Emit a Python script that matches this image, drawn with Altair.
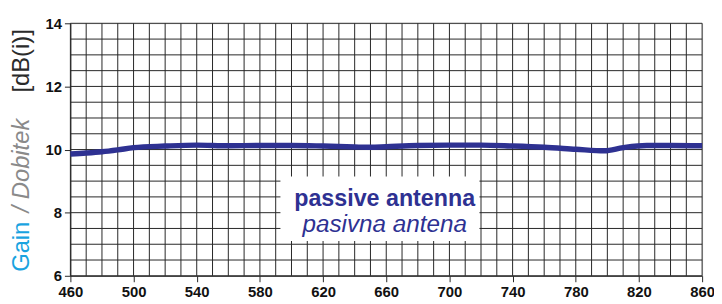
import altair as alt
import pandas as pd

# Frequency (MHz) and gain (dBi)
freq = [460, 470, 480, 490, 500, 520, 540, 560, 580, 600, 620, 640, 650,
        660, 680, 700, 720, 740, 760, 780, 798, 810, 825, 840, 860]
gain = [9.86, 9.89, 9.93, 9.99, 10.06, 10.11, 10.14, 10.12, 10.13, 10.13,
        10.11, 10.08, 10.07, 10.09, 10.13, 10.14, 10.14, 10.11, 10.07, 10.01,
        9.96, 10.06, 10.13, 10.13, 10.12]

x_grid = list(range(460, 861, 10))
y_grid = [6 + 0.5 * i for i in range(17)]
x_labels = list(range(460, 861, 40))
y_labels = [6, 8, 10, 12, 14]

note_lines = ["passive antenna", "pasivna antena"]
note_x = [659, 659]
note_y = [8.43, 7.6]
box_x = [593, 719]
box_y = [7.1, 9.15]

FONT = "Liberation Sans"
BLUE = "#2e3192"
GRID = "#262626"

df = pd.DataFrame({"f": freq, "g": gain})

xscale = alt.Scale(domain=[460, 860], nice=False, zero=False)
yscale = alt.Scale(domain=[6, 14], nice=False, zero=False)

xaxis = alt.Axis(
    values=x_labels, title=None, grid=False, domainColor=GRID, domainWidth=1,
    tickColor=GRID, tickSize=6, labelOverlap=False, labelFlush=False,
    labelFont=FONT, labelFontSize=15, labelFontWeight="bold",
    labelColor="#111111", labelPadding=3,
)
yaxis = alt.Axis(
    values=y_labels, title=None, grid=False, domainColor=GRID, domainWidth=1,
    tickColor=GRID, tickSize=6, labelOverlap=False, labelFlush=False,
    labelFont=FONT, labelFontSize=15, labelFontWeight="bold",
    labelColor="#111111", labelPadding=3,
)

vgrid = alt.Chart(pd.DataFrame({"v": x_grid})).mark_rule(color=GRID, strokeWidth=1).encode(
    x=alt.X("v:Q", scale=xscale, axis=xaxis)
)
hgrid = alt.Chart(pd.DataFrame({"h": y_grid})).mark_rule(color=GRID, strokeWidth=1).encode(
    y=alt.Y("h:Q", scale=yscale, axis=yaxis)
)

line = alt.Chart(df).mark_line(color=BLUE, strokeWidth=5.5, interpolate="monotone").encode(
    x=alt.X("f:Q", scale=xscale),
    y=alt.Y("g:Q", scale=yscale),
)

box_df = pd.DataFrame({"x1": [box_x[0]], "x2": [box_x[1]], "y1": [box_y[0]], "y2": [box_y[1]]})
box = alt.Chart(box_df).mark_rect(color="white").encode(
    x=alt.X("x1:Q", scale=xscale), x2="x2:Q",
    y=alt.Y("y1:Q", scale=yscale), y2="y2:Q",
)

t1 = alt.Chart(pd.DataFrame({"t": [note_lines[0]], "x": [note_x[0]], "y": [note_y[0]]})).mark_text(
    font=FONT, fontSize=23.5, fontWeight="bold", color=BLUE, align="center", baseline="middle"
).encode(x=alt.X("x:Q", scale=xscale), y=alt.Y("y:Q", scale=yscale), text="t:N")
t2 = alt.Chart(pd.DataFrame({"t": [note_lines[1]], "x": [note_x[1]], "y": [note_y[1]]})).mark_text(
    font=FONT, fontSize=24.5, fontStyle="italic", color=BLUE, align="center", baseline="middle"
).encode(x=alt.X("x:Q", scale=xscale), y=alt.Y("y:Q", scale=yscale), text="t:N")

ta = alt.Chart(pd.DataFrame({"t": ["Gain"]})).mark_text(
    font=FONT, fontSize=24, color="#19a3e0", angle=270, align="left", baseline="middle"
).encode(x=alt.value(-49), y=alt.value(251), text="t:N")
tb = alt.Chart(pd.DataFrame({"t": ["/ Dobitek"]})).mark_text(
    font=FONT, fontSize=24, fontStyle="italic", color="#8a8a8a", angle=270, align="left", baseline="middle"
).encode(x=alt.value(-49), y=alt.value(191), text="t:N")
tc = alt.Chart(pd.DataFrame({"t": ["[dB(i)]"]})).mark_text(
    font=FONT, fontSize=24, color="#2a2a2a", angle=270, align="left", baseline="middle"
).encode(x=alt.value(-49), y=alt.value(70), text="t:N")

chart = alt.layer(vgrid, hgrid, line, box, t1, t2, ta, tb, tc).properties(
    width=638, height=255,
    autosize=alt.AutoSizeParams(type="none"),
    padding={"left": 63, "top": 14, "right": 12, "bottom": 24},
).configure_view(stroke=None).configure(background="white")

chart.save("out.html", embed_options={"renderer": "svg", "actions": False})
